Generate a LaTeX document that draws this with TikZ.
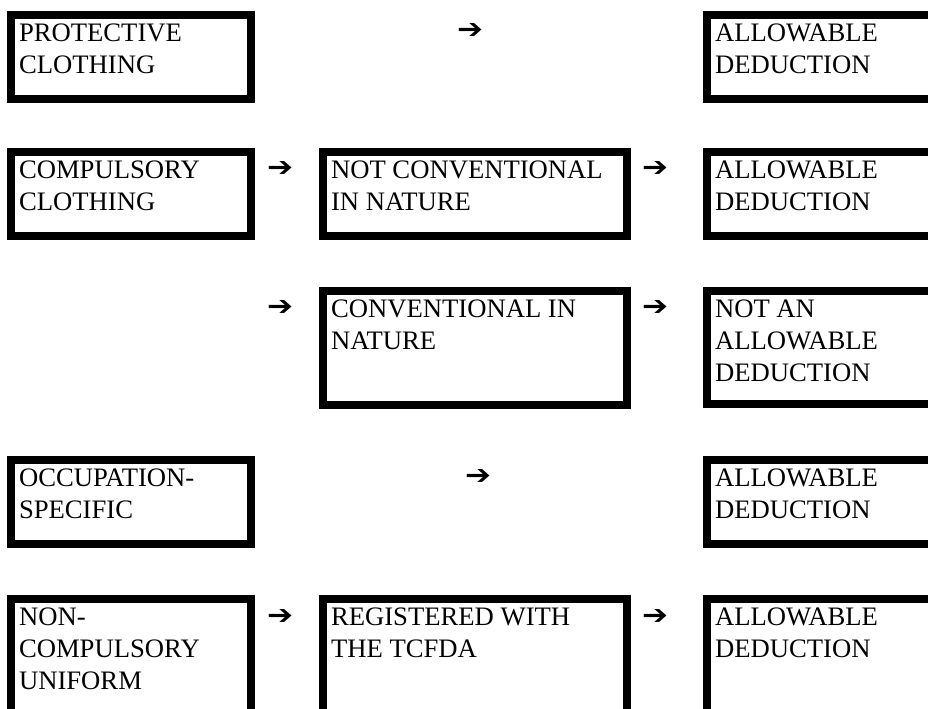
\documentclass[tikz,border=0pt]{standalone}
\usepackage{fontspec}
\setmainfont{Liberation Serif}
\newfontfamily\arrowfont{DejaVu Sans Bold}
\usetikzlibrary{positioning}
\tikzset{
    x=0.75pt,
    y=-0.75pt,
    block/.style = {
        draw,
        shape=rectangle,
        anchor=north west,
        line width=6pt,
        inner xsep=6pt,
        inner ysep=6.75pt,
        outer sep=0pt,
        font=\fontsize{20pt}{23.8pt}\selectfont
    },
    arrowmark/.style = {
        inner sep=0pt,
        font=\arrowfont
    },
}
% box text: width, height, lines
\newcommand{\boxtext}[3]{\parbox[t][#2][t]{#1}{\raggedright #3}}
\newcommand{\arrowglyph}{\resizebox{19.5pt}{11.25pt}{➔}}

\begin{document}
\begin{tikzpicture}
                \useasboundingbox (0,0) rectangle (928,708);
                \clip (0,0) rectangle (928,708);

                % left column
                \node[block] (protective) at (11,15) {\boxtext{168pt}{49.5pt}{PROTECTIVE\\CLOTHING}};
                \node[block] (compulsory) at (11,152) {\boxtext{168pt}{49.5pt}{COMPULSORY\\CLOTHING}};
                \node[block] (occupation) at (11,460) {\boxtext{168pt}{49.5pt}{OCCUPATION-\\SPECIFIC}};
                \node[block] (noncomp) at (11,599) {\boxtext{168pt}{72pt}{NON-\\COMPULSORY\\UNIFORM}};

                % middle column
                \node[block] (notconv) at (323,152) {\boxtext{216pt}{49.5pt}{NOT CONVENTIONAL\\IN NATURE}};
                \node[block] (conv) at (323,291) {\boxtext{216pt}{72pt}{CONVENTIONAL IN\\NATURE}};
                \node[block] (tcfda) at (323,599) {\boxtext{216pt}{72pt}{REGISTERED WITH\\THE TCFDA}};

                % right column
                \node[block] (allow1) at (707,15) {\boxtext{168pt}{49.5pt}{ALLOWABLE\\DEDUCTION}};
                \node[block] (allow2) at (707,152) {\boxtext{168pt}{49.5pt}{ALLOWABLE\\DEDUCTION}};
                \node[block] (notallow) at (707,291) {\boxtext{168pt}{71.25pt}{NOT AN\\ALLOWABLE\\DEDUCTION}};
                \node[block] (allow4) at (707,460) {\boxtext{168pt}{49.5pt}{ALLOWABLE\\DEDUCTION}};
                \node[block] (allow5) at (707,599) {\boxtext{168pt}{72pt}{ALLOWABLE\\DEDUCTION}};

                % arrows
                \node[arrowmark] (arr1) at (470,31) {\arrowglyph};
                \node[arrowmark] (arr2a) at (280,169) {\arrowglyph};
                \node[arrowmark] (arr2b) at (655,169) {\arrowglyph};
                \node[arrowmark] (arr3a) at (280,308) {\arrowglyph};
                \node[arrowmark] (arr3b) at (655,308) {\arrowglyph};
                \node[arrowmark] (arr4) at (478,477) {\arrowglyph};
                \node[arrowmark] (arr5a) at (280,617) {\arrowglyph};
                \node[arrowmark] (arr5b) at (655,617) {\arrowglyph};
\end{tikzpicture}
\end{document}
